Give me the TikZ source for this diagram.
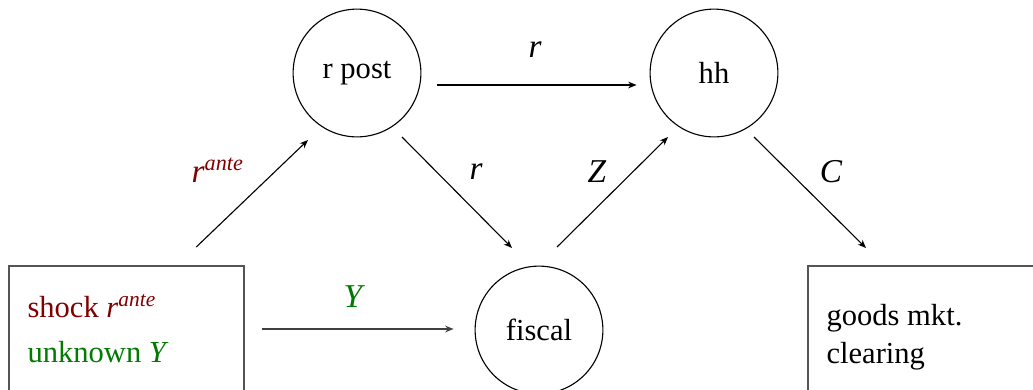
\documentclass[tikz,border=0pt]{standalone}
\usepackage{fontspec}
\setmainfont{Liberation Serif}
\usetikzlibrary{arrows.meta,positioning,calc}
\definecolor{AnteRed}{HTML}{800000}
\definecolor{YGreen}{HTML}{007A00}
\definecolor{BoxLine}{HTML}{555555}

\begin{document}
\begin{tikzpicture}[x=0.36pt,y=0.36pt,font=\fontsize{11}{15.4}\selectfont,
  circ/.style={circle,draw,line width=0.4pt,minimum size=46pt,inner sep=0pt},
  block/.style={rectangle,draw=BoxLine,line width=0.55pt,inner sep=0pt},
  conn/.style={-{Stealth[length=3pt,width=2.4pt]},line width=0.4pt},
  lbl/.style={font=\fontsize{12}{14}\selectfont\itshape}]
\useasboundingbox (0,0) rectangle (1033,389);
\clip (0,0) rectangle (1033,389);
\fill[white] (0,0) rectangle (1033,389);
% circles
\node[circ] (rpost) at (357,316){r post};
\node[circ] (hh) at (714,316){hh};
\node[circ] (fiscal) at (539,59){fiscal};
% boxes, cut by the page edge
\node[block,minimum width=235*0.36pt,minimum height=200*0.36pt,anchor=north west] (shockbox) at (8,124){};
\node[block,minimum width=300*0.36pt,minimum height=200*0.36pt,anchor=north west] (goodsbox) at (807,124){};
\node[anchor=north west,align=left,inner sep=0pt] (shock) at (27,95){\textcolor{AnteRed}{shock \textit{r}\textsuperscript{\textit{ante}}}\\[0.6pt]\textcolor{YGreen}{unknown \textit{Y}}};
\node[anchor=north west,align=left,inner sep=0pt] (goods) at (826,85){goods mkt.\\[-1.8pt]clearing};
% connectors
\draw[conn] ([shift={(70,18)}]shockbox.north) -- ([shift={(-49,-67)}]rpost.center);
\draw[conn] ([shift={(16,-12)}]rpost.east) -- ([shift={(-13,-12)}]hh.west);
\draw[conn] ([shift={(45,-64)}]rpost.center) -- ([shift={(-27,82)}]fiscal.center);
\draw[conn] ([shift={(18,83)}]fiscal.center) -- ([shift={(-46,-64)}]hh.center);
\draw[conn] ([shift={(40,-64)}]hh.center) -- ([shift={(59,17)}]goodsbox.north west);
\draw[conn,draw=black!75,line width=0.55pt] ([shift={(17,-64)}]shockbox.north east) -- ([shift={(-21,1)}]fiscal.west);
% labels
\node[lbl,text=AnteRed] (lante) at (218,219){r\textsuperscript{ante}};
\node[lbl] (ltop) at (535,339){r};
\node[lbl] (lmid) at (476,217){r};
\node[lbl] (lz) at (597,217){Z};
\node[lbl] (lc) at (831,217){C};
\node[lbl,text=YGreen] (ly) at (353,92){Y};
\end{tikzpicture}
\end{document}
